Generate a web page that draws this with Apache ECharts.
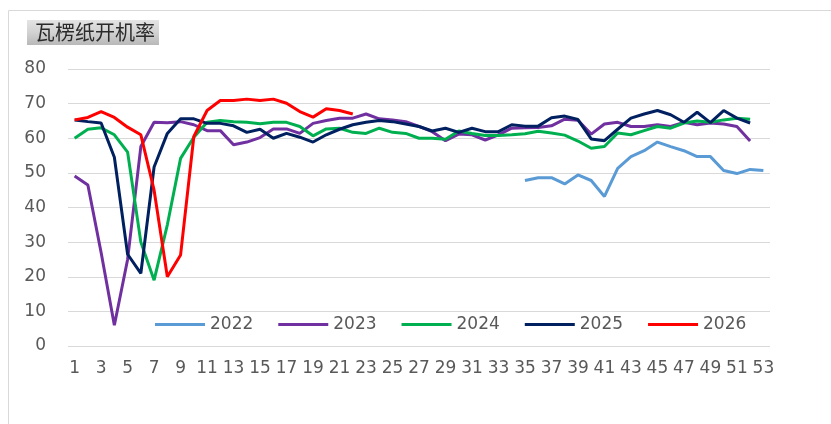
<!DOCTYPE html>
<html>
<head>
<meta charset="utf-8">
<title>瓦楞纸开机率</title>
<script src="https://cdn.jsdelivr.net/npm/echarts@6/dist/echarts.min.js"></script>
<style>
  html, body { margin: 0; padding: 0; background: #fff; }
  #chart { width: 831px; height: 424px; }
</style>
</head>
<body>
<div id="chart"></div>
<script>
// 周次 1..53
var weeks = [];
for (var i = 1; i <= 53; i++) weeks.push(String(i));

var yTicks = [0, 10, 20, 30, 40, 50, 60, 70, 80];

var y2022 = [null, null, null, null, null, null, null, null, null, null,
  null, null, null, null, null, null, null, null, null, null,
  null, null, null, null, null, null, null, null, null, null,
  null, null, null, null,
  47.8, 48.6, 48.6, 46.8, 49.4, 47.8, 43.2, 51.3, 54.7, 56.4,
  58.9, 57.6, 56.4, 54.7, 54.7, 50.7, 49.8, 51, 50.7];

var y2023 = [49.1, 46.5, 27, 6, 25, 57.6, 64.6, 64.5, 64.8, 63.9,
  62.2, 62.2, 58.1, 58.9, 60.2, 62.7, 62.7, 61.4, 64.3, 65.1,
  65.8, 65.8, 67, 65.6, 65.3, 64.8, 63.4, 61.9, 59.3, 61.2,
  61, 59.5, 61, 62.9, 63, 63.1, 63.6, 65.5, 65.2, 61.2,
  64.1, 64.6, 63.4, 63.4, 63.9, 63.4, 64.6, 63.9, 64.4, 64.1,
  63.4, 59.2, null];

var y2024 = [60, 62.6, 63, 61, 56, 30, 19, 35, 54.2, 60.3,
  64.6, 65.1, 64.8, 64.6, 64.2, 64.6, 64.6, 63.4, 60.7, 62.7,
  62.9, 61.7, 61.4, 62.9, 61.7, 61.4, 60, 60, 59.7, 62.1,
  61.4, 60.8, 60.8, 61, 61.3, 62, 61.5, 60.9, 59.2, 57.1,
  57.6, 61.5, 61, 62.2, 63.4, 62.9, 64.4, 65, 64.6, 65.3,
  65.8, 65.5, null];

var y2025 = [65.3, 64.8, 64.4, 54.5, 26.5, 21, 51.7, 61.4, 65.6, 65.6,
  64.3, 64.3, 63.6, 61.7, 62.6, 60, 61.4, 60.3, 58.9, 61,
  62.6, 63.9, 64.6, 65.1, 64.8, 64.1, 63.4, 62.1, 62.9, 61.7,
  62.9, 61.9, 61.9, 63.9, 63.5, 63.5, 65.9, 66.4, 65.4, 59.8,
  59.3, 62.6, 65.8, 67, 68, 66.8, 64.6, 67.5, 64.5, 68,
  65.8, 64.4, null];

var y2026 = [65.3, 66, 67.7, 66, 63.2, 61, 45, 20, 26.3, 60.5,
  68, 70.9, 70.9, 71.3, 70.9, 71.3, 70.1, 67.7, 66.1, 68.5,
  68, 67];

var seriesNames = ['2022', '2023', '2024', '2025', '2026'];
var seriesColors = ['#5b9bd5', '#7030a0', '#00b050', '#002060', '#ff0000'];
var seriesData = [y2022, y2023, y2024, y2025, y2026];

var chart = echarts.init(document.getElementById('chart'));

var series = [];
for (var k = 0; k < seriesNames.length; k++) {
  series.push({
    name: seriesNames[k],
    type: 'line',
    data: seriesData[k],
    symbol: 'none',
    connectNulls: false,
    lineStyle: { width: 3, color: seriesColors[k] },
    itemStyle: { color: seriesColors[k] },
    z: 2 + k
  });
}

var option = {
  animation: false,
  backgroundColor: '#fff',
  textStyle: { fontFamily: 'DejaVu Sans' },
  graphic: [{
    type: 'rect',
    shape: { x: 8.5, y: 10.5, width: 900, height: 500 },
    style: { fill: 'none', stroke: '#d9d9d9', lineWidth: 1 },
    silent: true
  }],
  title: {
    text: '瓦楞纸开机率',
    left: 27,
    top: 20,
    padding: [2, 4, 3, 8],
    backgroundColor: new echarts.graphic.LinearGradient(0, 0, 0, 1, [
      { offset: 0, color: '#e4e4e4' },
      { offset: 0.5, color: '#d2d2d2' },
      { offset: 1, color: '#b8b8b8' }
    ]),
    textStyle: {
      fontFamily: 'Noto Sans CJK SC',
      fontSize: 20,
      fontWeight: 'normal',
      color: '#2b2b2b'
    }
  },
  legend: {
    data: seriesNames,
    left: 155,
    top: 316,
    padding: 0,
    icon: 'rect',
    itemWidth: 50,
    itemHeight: 3,
    itemGap: 25,
    textStyle: { fontSize: 17, color: '#595959', fontFamily: 'DejaVu Sans' }
  },
  grid: {
    left: 68,
    right: 61,
    top: 69,
    bottom: 78,
    containLabel: false
  },
  xAxis: {
    type: 'category',
    data: weeks,
    boundaryGap: true,
    axisLine: { show: false },
    axisTick: { show: false },
    axisLabel: {
      interval: 1,
      margin: 14,
      fontSize: 17,
      color: '#595959',
      fontFamily: 'DejaVu Sans'
    }
  },
  yAxis: {
    type: 'value',
    min: yTicks[0],
    max: yTicks[yTicks.length - 1],
    interval: 10,
    axisLine: { show: false },
    axisTick: { show: false },
    axisLabel: {
      margin: 22,
      fontSize: 17,
      color: '#595959',
      fontFamily: 'DejaVu Sans'
    },
    splitLine: { lineStyle: { color: '#d9d9d9', width: 1 } }
  },
  series: series
};

chart.setOption(option);
</script>
</body>
</html>
